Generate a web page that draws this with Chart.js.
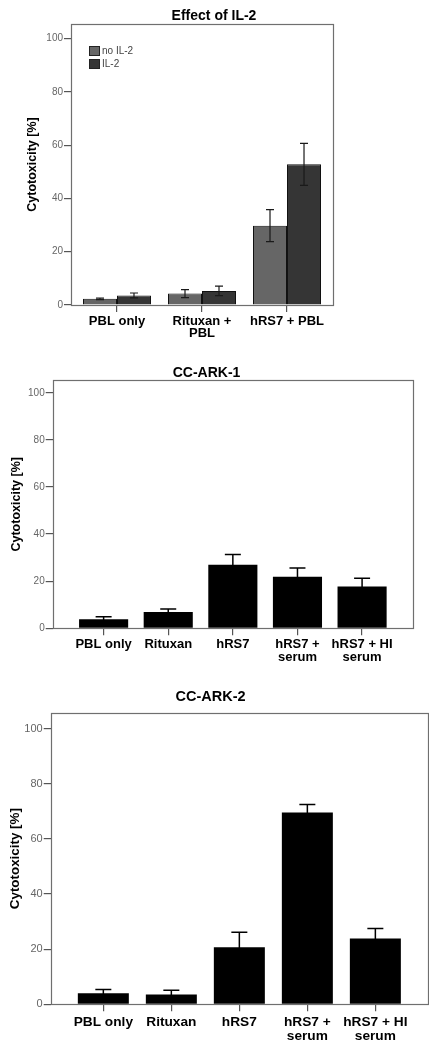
<!DOCTYPE html>
<html>
<head>
<meta charset="utf-8">
<script src="https://cdn.jsdelivr.net/npm/chart.js@4.4.0/dist/chart.umd.min.js"></script>
<style>
  body { margin: 0; background: #fff; width: 438px; height: 1050px; position: relative; overflow: hidden; }
  canvas { position: absolute; }
</style>
</head>
<body>
<canvas id="il2Chart" width="438" height="350" style="left:0;top:0;width:438px;height:350px"></canvas>
<canvas id="ark1Chart" width="438" height="330" style="left:0;top:350px;width:438px;height:330px"></canvas>
<canvas id="ark2Chart" width="436" height="370" style="left:-7px;top:680px;width:436px;height:370px"></canvas>
<script>
// Effect of IL-2
const il2Categories = ['PBL only', ['Rituxan +', 'PBL'], 'hRS7 + PBL'];
const noIL2 = [2.3, 4.3, 29.8];
const noIL2Err = [0.3, 1.5, 6.0];
const withIL2 = [3.6, 5.3, 52.8];
const withIL2Err = [0.9, 1.8, 7.9];

// CC-ARK-1 / CC-ARK-2
const arkCategories = ['PBL only', 'Rituxan', 'hRS7', ['hRS7 +', 'serum'], ['hRS7 + HI', 'serum']];
const ark1 = [3.8, 6.9, 27.0, 21.9, 17.7];
const ark1Err = [1.1, 1.3, 4.3, 3.7, 3.5];
const ark2 = [4.0, 3.6, 20.7, 69.6, 23.9];
const ark2Err = [1.4, 1.5, 5.4, 2.9, 3.6];

const FONT = '"Liberation Sans", Arial, sans-serif';

const toPoints = values => values.map((v, i) => ({ x: i, y: v }));

// error bars + plot frame
const errorBars = {
    id: 'errorBars',
    afterDatasetsDraw(chart, args, opts) {
        const ctx = chart.ctx;
        const yScale = chart.scales.y;
        chart.data.datasets.forEach((ds, di) => {
            if (!ds.errors) return;
            const meta = chart.getDatasetMeta(di);
            ctx.save();
            ctx.strokeStyle = opts.color;
            ctx.lineWidth = opts.width;
            meta.data.forEach((bar, i) => {
                const v = ds.data[i].y;
                const e = ds.errors[i];
                const top = yScale.getPixelForValue(v + e);
                const bot = yScale.getPixelForValue(v - e);
                const half = opts.cap / 2;
                ctx.beginPath();
                ctx.moveTo(bar.x, top); ctx.lineTo(bar.x, bot);
                ctx.moveTo(bar.x - half, top); ctx.lineTo(bar.x + half, top);
                ctx.moveTo(bar.x - half, bot); ctx.lineTo(bar.x + half, bot);
                ctx.stroke();
            });
            ctx.restore();
        });
    },
    afterDraw(chart) {
        const { left, top, right, bottom } = chart.chartArea;
        const ctx = chart.ctx;
        ctx.save();
        ctx.strokeStyle = '#6f6f6f';
        ctx.lineWidth = 1.2;
        ctx.strokeRect(Math.round(left) + 0.5, Math.round(top) + 0.5,
            Math.round(right - left), Math.round(bottom - top));
        ctx.restore();
    }
};

// small legend in the top-left corner of the plot
const cornerLegend = {
    id: 'cornerLegend',
    afterDraw(chart) {
        const ctx = chart.ctx;
        const area = chart.chartArea;
        ctx.save();
        ctx.font = '10px ' + FONT;
        ctx.textBaseline = 'middle';
        chart.data.datasets.forEach((ds, i) => {
            const x = area.left + 18;
            const y = area.top + 22 + i * 13;
            ctx.fillStyle = ds.backgroundColor;
            ctx.fillRect(x, y, 11, 9);
            ctx.strokeStyle = '#222';
            ctx.lineWidth = 1;
            ctx.strokeRect(x + 0.5, y + 0.5, 10, 9);
            ctx.fillStyle = '#444';
            ctx.fillText(ds.label, x + 13, y + 5);
        });
        ctx.restore();
    }
};

function makeChart(id, labels, datasets, o) {
    const scales = {
        x: {
            type: 'linear',
            min: o.xMin,
            max: o.xMax,
            offset: false,
            afterBuildTicks: axis => { axis.ticks = labels.map((l, i) => ({ value: i })); },
            afterFit: s => { s.height = o.xHeight; },
            ticks: {
                callback: v => labels[v],
                color: '#000',
                padding: o.xPad,
                maxRotation: 0,
                autoSkip: false,
                font: { family: FONT, size: o.xFont, weight: 'bold', lineHeight: o.xLine }
            },
            grid: { offset: false, drawOnChartArea: false, drawTicks: true, tickLength: 7, color: '#555', lineWidth: 1.2 },
            border: { display: false }
        },
        y: {
            min: 0,
            max: o.yMax,
            afterFit: s => { s.width = o.yWidth; },
            ticks: {
                stepSize: 20,
                includeBounds: false,
                color: '#666',
                padding: 1,
                font: { family: FONT, size: o.yFont }
            },
            grid: { drawOnChartArea: false, drawTicks: true, tickLength: 7, color: '#555', lineWidth: 1.2 },
            border: { display: false },
            title: {
                display: true,
                text: 'Cytotoxicity [%]',
                color: '#000',
                padding: { top: o.yTitlePad, bottom: 0 },
                font: { family: FONT, size: o.yTitleFont, weight: 'bold', lineHeight: 1.2 }
            }
        }
    };
    if (o.rightGap) {
        scales.gap = {
            type: 'linear',
            position: 'right',
            display: true,
            ticks: { display: false },
            grid: { display: false },
            border: { display: false },
            afterFit: s => { s.width = o.rightGap; }
        };
    }
    return new Chart(document.getElementById(id), {
        type: 'bar',
        data: { datasets },
        options: {
            responsive: false,
            animation: false,
            devicePixelRatio: 1,
            categoryPercentage: o.catPct,
            barPercentage: 1.0,
            layout: { padding: { left: 0, right: o.padRight, top: 0, bottom: 0 } },
            plugins: {
                legend: { display: false },
                tooltip: { enabled: false },
                title: {
                    display: true,
                    text: o.title,
                    color: '#000',
                    padding: { top: o.titleTop, bottom: o.titleBottom },
                    font: { family: FONT, size: o.titleFont, weight: 'bold', lineHeight: 1.0 }
                },
                errorBars: { color: o.errColor, width: o.errWidth, cap: o.cap }
            },
            scales
        },
        plugins: o.legend ? [errorBars, cornerLegend] : [errorBars]
    });
}

makeChart('il2Chart', il2Categories, [
    {
        label: 'no IL-2',
        data: toPoints(noIL2),
        errors: noIL2Err,
        backgroundColor: '#666666',
        borderColor: '#111',
        borderWidth: 1
    },
    {
        label: 'IL-2',
        data: toPoints(withIL2),
        errors: withIL2Err,
        backgroundColor: '#353535',
        borderColor: '#111',
        borderWidth: 1
    }
], {
    title: 'Effect of IL-2', titleFont: 14, titleTop: 9, titleBottom: 1,
    xMin: -0.541, xMax: 2.541, xHeight: 45, xPad: 3, xFont: 13, xLine: 0.95,
    yMax: 105.5, yWidth: 71, yFont: 10, yTitleFont: 12.5, yTitlePad: 25.5,
    padRight: 10, rightGap: 95, catPct: 0.8,
    errColor: '#1a1a1a', errWidth: 1.2, cap: 8, legend: true
});

makeChart('ark1Chart', arkCategories, [
    {
        label: 'CC-ARK-1',
        data: toPoints(ark1),
        errors: ark1Err,
        backgroundColor: '#000'
    }
], {
    title: 'CC-ARK-1', titleFont: 14, titleTop: 16.3, titleBottom: 0,
    xMin: -0.788, xMax: 4.788, xHeight: 51.7, xPad: 3, xFont: 13, xLine: 0.98,
    yMax: 105.3, yWidth: 52.7, yFont: 10, yTitleFont: 12.5, yTitlePad: 9.2,
    padRight: 25, rightGap: 0, catPct: 0.76,
    errColor: '#000', errWidth: 1.5, cap: 16, legend: false
});

makeChart('ark2Chart', arkCategories, [
    {
        label: 'CC-ARK-2',
        data: toPoints(ark2),
        errors: ark2Err,
        backgroundColor: '#000'
    }
], {
    title: 'CC-ARK-2', titleFont: 14.5, titleTop: 9.4, titleBottom: 9.1,
    xMin: -0.774, xMax: 4.774, xHeight: 45.7, xPad: 4, xFont: 13.7, xLine: 1.0,
    yMax: 105.7, yWidth: 57.7, yFont: 11, yTitleFont: 13.4, yTitlePad: 14,
    padRight: 1, rightGap: 0, catPct: 0.75,
    errColor: '#000', errWidth: 1.5, cap: 16, legend: false
});
</script>
</body>
</html>
